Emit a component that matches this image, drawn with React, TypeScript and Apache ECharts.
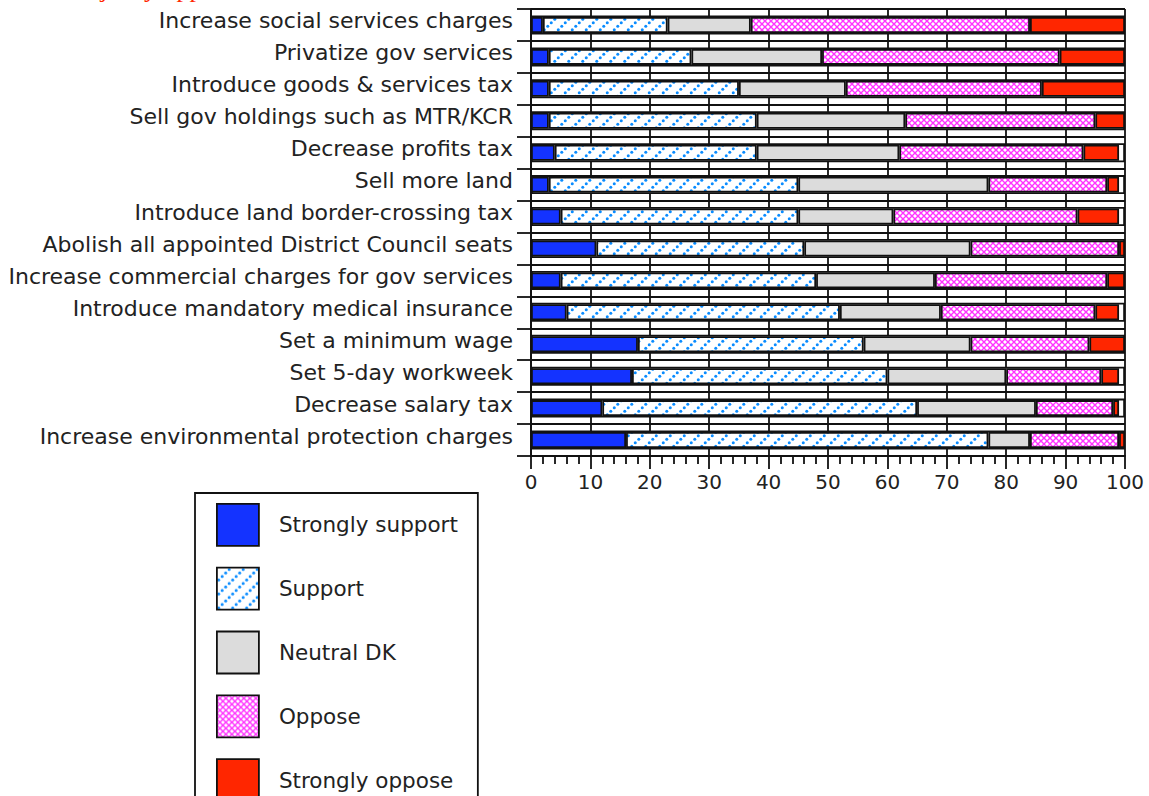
import React, { useEffect, useRef } from "react";
import * as echarts from "echarts";

const categories = [
  "Increase social services charges",
  "Privatize gov services",
  "Introduce goods & services tax",
  "Sell gov holdings such as MTR/KCR",
  "Decrease profits tax",
  "Sell more land",
  "Introduce land border-crossing tax",
  "Abolish all appointed District Council seats",
  "Increase commercial charges for gov services",
  "Introduce mandatory medical insurance",
  "Set a minimum wage",
  "Set 5-day workweek",
  "Decrease salary tax",
  "Increase environmental protection charges",
];

const strongSupport = [2, 3, 3, 3, 4, 3, 5, 11, 5, 6, 18, 17, 12, 16];
const support = [21, 24, 32, 35, 34, 42, 40, 35, 43, 46, 38, 43, 53, 61];
const neutral = [14, 22, 18, 25, 24, 32, 16, 28, 20, 17, 18, 20, 20, 7];
const oppose = [47, 40, 33, 32, 31, 20, 31, 25, 29, 26, 20, 16, 13, 15];
const strongOppose = [16, 11, 14, 5, 6, 2, 7, 1, 3, 4, 6, 3, 1, 1];
const fullScale = [100, 100, 100, 100, 100, 100, 100, 100, 100, 100, 100, 100, 100, 100];

const seriesNames = ["Strongly support", "Support", "Neutral DK", "Oppose", "Strongly oppose"];
const xTicks = { min: 0, max: 100, interval: 10 };
const titleText = "Clear majority oppose";

function makeSupportTile(): HTMLCanvasElement {
  const n = 14;
  const c = document.createElement("canvas");
  c.width = n;
  c.height = n;
  const ctx = c.getContext("2d")!;
  ctx.fillStyle = "#ffffff";
  ctx.fillRect(0, 0, n, n);
  ctx.fillStyle = "#0a8cff";
  for (let i = 0; i < 4; i++) {
    const x = 1.75 + i * 3.5;
    const y = n - x;
    ctx.beginPath();
    ctx.arc(x, y, 1.5, 0, Math.PI * 2);
    ctx.fill();
  }
  return c;
}

function makeOpposeTile(): HTMLCanvasElement {
  const c = document.createElement("canvas");
  c.width = 6;
  c.height = 6;
  const ctx = c.getContext("2d")!;
  ctx.fillStyle = "#ffffff";
  ctx.fillRect(0, 0, 6, 6);
  ctx.strokeStyle = "#ff33ff";
  ctx.lineWidth = 1.4;
  ctx.beginPath();
  ctx.moveTo(-1, -1);
  ctx.lineTo(7, 7);
  ctx.moveTo(7, -1);
  ctx.lineTo(-1, 7);
  ctx.stroke();
  return c;
}

export default function App() {
  const ref = useRef<HTMLDivElement>(null);
  useEffect(() => {
    if (!ref.current) return;
    const chart = echarts.init(ref.current, undefined, { renderer: "svg" });
    const supportPattern: any = {
      image: makeSupportTile(),
      repeat: "repeat",
      imageWidth: 14,
      imageHeight: 14,
    };
    const opposePattern: any = {
      image: makeOpposeTile(),
      repeat: "repeat",
      imageWidth: 6,
      imageHeight: 6,
    };
    const colors: any[] = ["#1433ff", supportPattern, "#dcdcdc", opposePattern, "#ff2600"];
    const values = [strongSupport, support, neutral, oppose, strongOppose];
    const font = "'DejaVu Sans', 'Liberation Sans', Arial, sans-serif";
    const line = "#111111";
    const lw = 1.8;

    const dataSeries = seriesNames.map((name, i) => ({
      name,
      type: "bar",
      stack: "total",
      yAxisIndex: 0,
      barWidth: 16,
      z: 3,
      data: values[i],
      itemStyle: { color: colors[i], borderColor: line, borderWidth: lw },
    }));

    chart.setOption({
      animation: false,
      backgroundColor: "#ffffff",
      grid: { left: 531, right: 24, top: 9, bottom: 840 - 456, containLabel: false },
      graphic: [
        {
          type: "text",
          left: 6,
          top: -25,
          style: {
            text: titleText,
            fill: "#ff2600",
            font: "26px 'Liberation Serif', 'Times New Roman', serif",
          },
        },
      ],
      legend: {
        data: seriesNames,
        orient: "vertical",
        left: 195,
        top: 493,
        padding: [10, 20, 12, 21],
        itemWidth: 42,
        itemHeight: 42,
        itemGap: 20,
        icon: "rect",
        borderColor: line,
        borderWidth: lw,
        backgroundColor: "#ffffff",
        itemStyle: { borderColor: line, borderWidth: lw },
        textStyle: {
          fontSize: 21.5,
          fontFamily: font,
          color: "#222222",
          padding: [0, 0, 6, 15],
        },
        selectedMode: false,
      },
      xAxis: {
        type: "value",
        min: xTicks.min,
        max: xTicks.max,
        interval: xTicks.interval,
        axisLine: { show: true, lineStyle: { color: line, width: lw } },
        axisTick: { show: true, length: 13, lineStyle: { color: line, width: lw } },
        minorTick: { show: true, splitNumber: 5, length: 8, lineStyle: { color: line, width: lw } },
        splitLine: { show: true, lineStyle: { color: line, width: lw } },
        axisLabel: { fontSize: 20, fontFamily: font, color: "#222222", margin: 16 },
      },
      yAxis: [
        {
          type: "category",
          data: categories,
          inverse: true,
          axisLine: { show: true, lineStyle: { color: line, width: lw } },
          axisTick: { show: true, length: 14, lineStyle: { color: line, width: lw } },
          splitLine: { show: true, lineStyle: { color: line, width: lw } },
          axisLabel: {
            fontSize: 22,
            fontFamily: font,
            color: "#222222",
            margin: 18,
            verticalAlign: "bottom",
            lineHeight: 8,
          },
        },
        {
          type: "category",
          data: categories,
          inverse: true,
          show: false,
          splitLine: { show: false },
        },
      ],
      series: [
        {
          name: "bg",
          type: "bar",
          yAxisIndex: 1,
          barWidth: 19,
          z: 1,
          silent: true,
          data: fullScale,
          itemStyle: { color: "#ffffff", borderColor: line, borderWidth: lw },
        },
        ...dataSeries,
      ],
    });
    return () => chart.dispose();
  }, []);
  return (
    <div
      style={{
        position: "absolute",
        left: 0,
        top: 0,
        width: 1149,
        height: 796,
        overflow: "hidden",
      }}
    >
      <div ref={ref} style={{ width: 1149, height: 840 }} />
    </div>
  );
}
